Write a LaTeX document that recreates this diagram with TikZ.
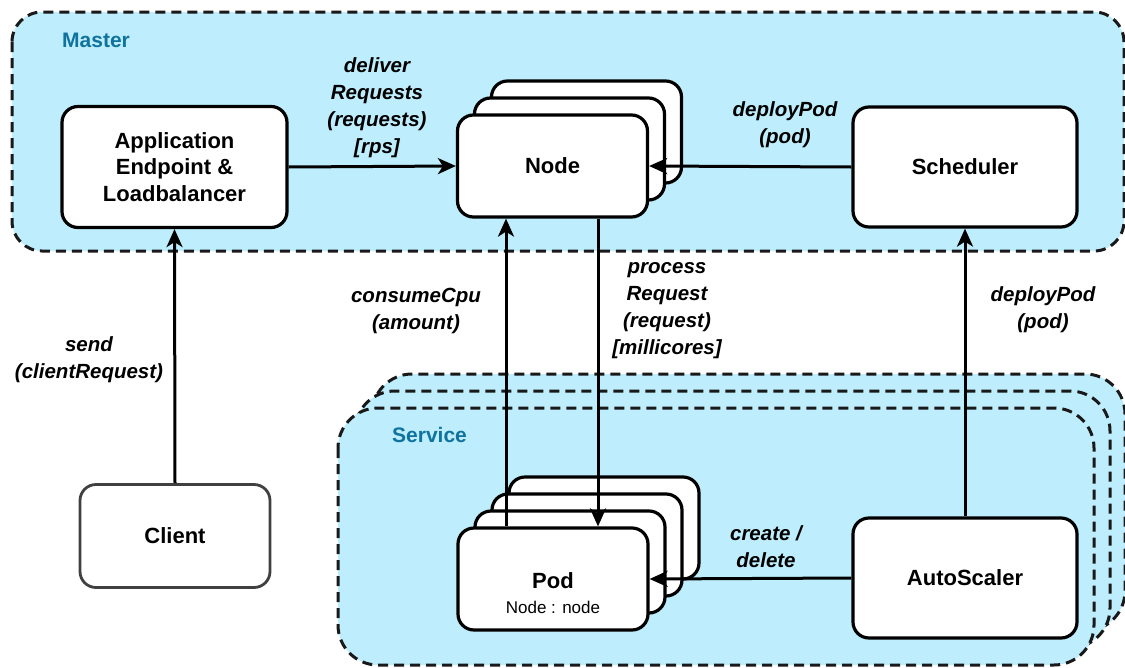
\documentclass[tikz,border=0pt]{standalone}
\usepackage{fontspec}
\setmainfont{Liberation Sans}
\usetikzlibrary{arrows.meta}
\definecolor{cfill}{RGB}{190,238,253}
\definecolor{cteal}{RGB}{16,115,158}
\begin{document}
\begin{tikzpicture}[x=1pt,y=-1pt,
 cont/.style={draw=black!90, fill=cfill, line width=3pt, dash pattern=on 10pt off 6pt},
 box/.style={draw, fill=white, line width=3.2pt, rounded corners=16pt, align=center,
   font=\fontsize{22}{26.5}\selectfont\bfseries, inner sep=0pt},
 layer/.style={box, minimum width=190pt, minimum height=102pt},
 arr/.style={line width=3pt, -{Stealth[length=18pt,width=16pt,inset=5pt]}},
 lbl/.style={align=center, font=\fontsize{20.5}{27}\selectfont\bfseries\itshape, inner sep=0pt},
 title/.style={font=\fontsize{21}{25}\selectfont\bfseries, text=cteal, anchor=west, inner sep=0pt}]
\useasboundingbox (0,0) rectangle (1125,667);

% Master container
\draw[cont, rounded corners=30pt] (12,12) rectangle (1124,251);
\node[title] (mastert) at (62,40) {Master};

% Service containers (stack)
\draw[cont, rounded corners=40pt] (372,374) rectangle (1125,631);
\draw[cont, rounded corners=40pt] (355,391) rectangle (1110,648);
\draw[cont, rounded corners=40pt] (338,408) rectangle (1094,665);
\node[title] (servicet) at (392,435) {Service};

% Boxes
\node[box, minimum width=225pt, minimum height=121pt] (app) at (174.5,167) {Application\\Endpoint \&\\Loadbalancer};

\node[layer] (node3) at (586.5,132) {};
\node[layer] (node2) at (569.5,149) {};
\node[layer] (node) at (552.5,166) {Node};

\node[box, minimum width=224pt, minimum height=120pt] (sched) at (965,167) {Scheduler};

\node[box, draw=black!75, line width=2.8pt, minimum width=190pt, minimum height=103pt] (client) at (175,536) {Client};

\node[layer] (pod4) at (604,528) {};
\node[layer] (pod3) at (587,545) {};
\node[layer] (pod2) at (570,562) {};
\node[layer] (pod) at (553,579) {};
\node[align=center, inner sep=0pt, font=\fontsize{22}{26.5}\selectfont\bfseries] (podt) at (553,593)
  {Pod\\[-1pt]{\fontsize{17}{20}\selectfont\mdseries Node : node}};

\node[box, minimum width=224pt, minimum height=120pt] (auto) at (965,578) {AutoScaler};

% Connectors
\coordinate (cx) at (506,0);
\coordinate (px) at (598,0);
\draw[arr] (client.north) -- (app.south);
\draw[arr] (app.east) -- (node.west);
\draw[arr] (sched.west) -- (node.east);
\draw[arr] (cx |- pod.north) -- (cx |- node.south);
\draw[arr] (px |- node.south) -- (px |- pod.north);
\draw[arr] (auto.west) -- (pod.east);
\draw[arr] (auto.north) -- (sched.south);

% Labels
\node[lbl] (l1) at (377,108) {deliver\\Requests\\(requests)\\[0pt][rps]};
\node[lbl] (l2) at (785,125) {deployPod\\(pod)};
\node[lbl] (l3) at (416,311) {consumeCpu\\(amount)};
\node[lbl] (l4) at (667,311) {process\\Request\\(request)\\[0pt][millicores]};
\node[lbl] (l5) at (1043,309.5) {deployPod\\(pod)};
\node[lbl] (l6) at (766,546.5) {create /\\delete};
\node[lbl] (l7) at (89,360) {send\\(clientRequest)};
\end{tikzpicture}
\end{document}
